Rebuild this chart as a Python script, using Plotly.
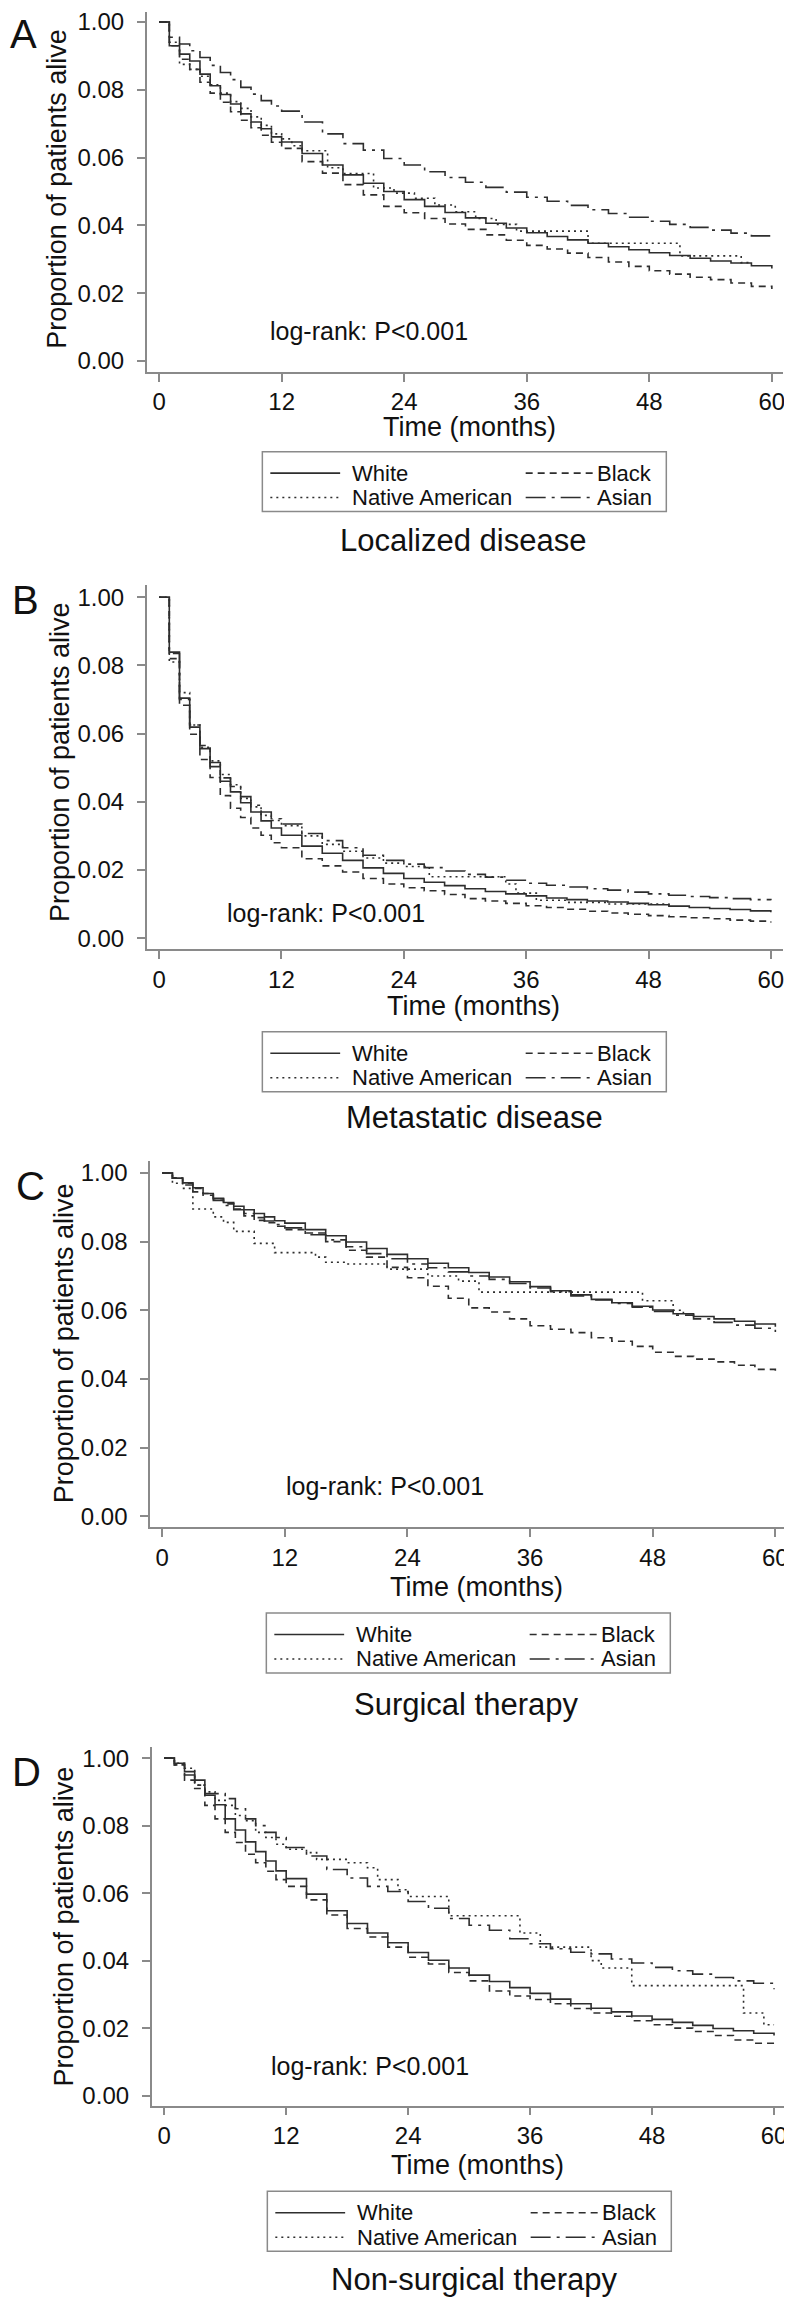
import plotly.graph_objects as go

# the page body adds an 8 px margin, so the figure is drawn 8 px smaller and
# every reference pixel position is shifted by that offset
OFF = 8
W, H = 792 - OFF, 2299 - OFF
FONT = "Liberation Sans, Arial, Helvetica, sans-serif"
INK = "#111111"
LINE = "#2e2e2e"
AXIS = "#8a8a8a"

# ---- data ----
months = [0, 1, 2, 3, 4, 5, 6, 7, 8, 9, 10, 11, 12,
          14, 16, 18, 20, 22, 24, 26, 28, 30, 32, 34, 36,
          38, 40, 42, 44, 46, 48, 50, 52, 54, 56, 58, 60]

# A - localized disease
a_white = [1.0, 0.93, 0.905, 0.885, 0.846, 0.812, 0.786, 0.758, 0.729, 0.705, 0.685, 0.661, 0.646,
           0.612, 0.578, 0.549, 0.524, 0.50, 0.476, 0.456, 0.438, 0.422, 0.406, 0.392, 0.378,
           0.367, 0.357, 0.347, 0.337, 0.328, 0.319, 0.311, 0.303, 0.295, 0.289, 0.281, 0.273]
a_black = [1.0, 0.93, 0.89, 0.86, 0.822, 0.79, 0.763, 0.735, 0.71, 0.688, 0.666, 0.645, 0.627,
           0.588, 0.554, 0.52, 0.49, 0.456, 0.437, 0.42, 0.404, 0.388, 0.372, 0.356, 0.341,
           0.33, 0.318, 0.305, 0.292, 0.279, 0.266, 0.256, 0.247, 0.24, 0.23, 0.22, 0.212]
a_asian = [1.0, 0.955, 0.935, 0.915, 0.895, 0.872, 0.851, 0.83, 0.807, 0.787, 0.768, 0.752, 0.737,
           0.705, 0.67, 0.641, 0.622, 0.597, 0.578, 0.558, 0.541, 0.527, 0.512, 0.498, 0.483,
           0.471, 0.459, 0.446, 0.435, 0.424, 0.412, 0.403, 0.394, 0.386, 0.377, 0.369, 0.362]
a_na_t = [0, 1, 2, 3, 4, 5, 6, 7, 8, 9, 10, 11, 12, 13, 14, 16.5, 18, 21, 23, 25, 27, 29, 31, 33, 35, 42, 51, 57, 58]
a_na = [1.0, 0.94, 0.875, 0.86, 0.84, 0.815, 0.79, 0.765, 0.745, 0.72, 0.695, 0.67, 0.655, 0.635, 0.62,
        0.57, 0.553, 0.51, 0.495, 0.48, 0.46, 0.44, 0.42, 0.403, 0.383, 0.347, 0.31, 0.29, 0.29]

# B - metastatic disease
b_white = [1.0, 0.839, 0.704, 0.619, 0.556, 0.503, 0.46, 0.429, 0.397, 0.37, 0.344, 0.323, 0.302,
           0.27, 0.249, 0.228, 0.206, 0.19, 0.175, 0.164, 0.154, 0.145, 0.137, 0.130, 0.124,
           0.118, 0.113, 0.109, 0.106, 0.102, 0.098, 0.094, 0.09, 0.087, 0.084, 0.08, 0.076]
b_black = [1.0, 0.82, 0.683, 0.598, 0.524, 0.471, 0.418, 0.381, 0.354, 0.323, 0.302, 0.28, 0.265,
           0.233, 0.212, 0.194, 0.175, 0.159, 0.148, 0.139, 0.128, 0.116, 0.109, 0.102, 0.095,
           0.09, 0.085, 0.079, 0.074, 0.07, 0.066, 0.063, 0.06, 0.057, 0.053, 0.05, 0.046]
b_asian = [1.0, 0.835, 0.70, 0.625, 0.565, 0.515, 0.47, 0.445, 0.415, 0.39, 0.37, 0.35, 0.335,
           0.307, 0.286, 0.265, 0.243, 0.228, 0.217, 0.207, 0.197, 0.187, 0.179, 0.17, 0.161,
           0.155, 0.15, 0.145, 0.141, 0.135, 0.13, 0.126, 0.122, 0.119, 0.116, 0.113, 0.111]
b_na_t = [0, 1, 2, 3, 4, 5, 6, 7, 8, 9, 10, 11, 12, 14, 16, 18, 20, 22, 24, 26.5, 34, 35, 37, 40, 44, 50]
b_na = [1.0, 0.81, 0.72, 0.625, 0.56, 0.52, 0.48, 0.45, 0.41, 0.385, 0.36, 0.345, 0.33,
        0.3, 0.275, 0.255, 0.235, 0.22, 0.21, 0.18, 0.159, 0.132, 0.111, 0.105, 0.1, 0.095]

# C - surgical therapy
c_white = [1.0, 0.985, 0.971, 0.957, 0.94, 0.926, 0.914, 0.903, 0.893, 0.882, 0.872, 0.861, 0.854,
           0.835, 0.817, 0.799, 0.78, 0.763, 0.75, 0.737, 0.724, 0.71, 0.697, 0.683, 0.669,
           0.657, 0.645, 0.632, 0.622, 0.612, 0.601, 0.59, 0.582, 0.575, 0.568, 0.56, 0.552]
c_black = [1.0, 0.985, 0.97, 0.955, 0.94, 0.925, 0.91, 0.895, 0.875, 0.862, 0.855, 0.845, 0.835,
           0.825, 0.80, 0.775, 0.755, 0.725, 0.695, 0.67, 0.635, 0.607, 0.595, 0.575, 0.555,
           0.545, 0.535, 0.52, 0.51, 0.495, 0.478, 0.466, 0.458, 0.45, 0.44, 0.428, 0.418]
c_asian = [1.0, 0.985, 0.965, 0.945, 0.935, 0.92, 0.905, 0.893, 0.882, 0.87, 0.86, 0.85, 0.84,
           0.82, 0.805, 0.785, 0.765, 0.75, 0.735, 0.724, 0.712, 0.70, 0.69, 0.678, 0.665,
           0.654, 0.642, 0.63, 0.62, 0.609, 0.597, 0.586, 0.575, 0.565, 0.557, 0.548, 0.537]
c_na_t = [0, 1, 2, 3, 5, 6, 7, 9, 11, 15, 16, 18, 22, 26, 29, 31, 47, 50, 51]
c_na = [1.0, 0.97, 0.955, 0.895, 0.872, 0.856, 0.83, 0.795, 0.768, 0.755, 0.74, 0.735, 0.72,
        0.70, 0.685, 0.653, 0.628, 0.60, 0.585]

# D - non-surgical therapy
d_white = [1.0, 0.985, 0.96, 0.935, 0.89, 0.862, 0.82, 0.787, 0.752, 0.723, 0.695, 0.666, 0.643,
           0.597, 0.548, 0.51, 0.482, 0.453, 0.424, 0.401, 0.378, 0.357, 0.338, 0.32, 0.303,
           0.286, 0.272, 0.259, 0.248, 0.236, 0.226, 0.217, 0.208, 0.199, 0.192, 0.185, 0.178]
d_black = [1.0, 0.98, 0.935, 0.91, 0.86, 0.82, 0.78, 0.75, 0.715, 0.69, 0.665, 0.64, 0.62,
           0.58, 0.535, 0.495, 0.47, 0.44, 0.41, 0.39, 0.365, 0.34, 0.31, 0.295, 0.285,
           0.272, 0.258, 0.245, 0.235, 0.222, 0.21, 0.2, 0.19, 0.178, 0.165, 0.155, 0.147]
d_asian = [1.0, 0.98, 0.95, 0.92, 0.895, 0.895, 0.88, 0.85, 0.82, 0.80, 0.78, 0.765, 0.735,
           0.71, 0.67, 0.645, 0.62, 0.605, 0.575, 0.555, 0.525, 0.505, 0.49, 0.465, 0.45,
           0.435, 0.425, 0.42, 0.405, 0.393, 0.38, 0.37, 0.36, 0.35, 0.34, 0.333, 0.315]
d_na_t = [0, 1, 2, 3, 4, 5, 6, 7, 8, 9, 10, 11, 12, 14, 15, 18, 20, 21, 23, 24, 28, 35, 37, 42, 43, 46, 57, 59, 60]
d_na = [1.0, 0.985, 0.97, 0.92, 0.9, 0.875, 0.86, 0.83, 0.815, 0.78, 0.765, 0.745, 0.73,
        0.72, 0.70, 0.69, 0.675, 0.64, 0.61, 0.59, 0.533, 0.482, 0.44, 0.40, 0.378, 0.326, 0.245, 0.21, 0.21]

groups = ["White", "Black", "Native American", "Asian"]
panel_letters = ["A", "B", "C", "D"]
panel_titles = ["Localized disease", "Metastatic disease", "Surgical therapy", "Non-surgical therapy"]
x_ticks = [0, 12, 24, 36, 48, 60]
y_tickvals = [0, 0.2, 0.4, 0.6, 0.8, 1.0]
y_ticktext = ["0.00", "0.02", "0.04", "0.06", "0.08", "1.00"]
pval_text = "log-rank: P<0.001"

series = [
    {"White": (months, a_white), "Black": (months, a_black), "Native American": (a_na_t, a_na), "Asian": (months, a_asian)},
    {"White": (months, b_white), "Black": (months, b_black), "Native American": (b_na_t, b_na), "Asian": (months, b_asian)},
    {"White": (months, c_white), "Black": (months, c_black), "Native American": (c_na_t, c_na), "Asian": (months, c_asian)},
    {"White": (months, d_white), "Black": (months, d_black), "Native American": (d_na_t, d_na), "Asian": (months, d_asian)},
]

dashes = {"White": "solid", "Black": "7px,5px", "Native American": "2px,4px", "Asian": "20px,6px,3px,6px"}

# pixel geometry of each panel in the reference picture
# xg: (pixel of month 0, pixel of month 60, axis left, axis right)
# yg: (pixel of 1.00, pixel of 0.00, axis top, axis bottom)
panels = [
    dict(xg=(159.5, 773.8, 147, 785), yg=(18, 358, 8, 369), letter=(0, 30),
         ytitle=(57.5, 185), xtitle=(471, 424), leg=(263, 449), sub=(464, 538), pv=(370, 328)),
    dict(xg=(159.5, 772.8, 147, 785), yg=(595, 937, 583, 948), letter=(10, 598),
         ytitle=(59.5, 760), xtitle=(475, 1005), leg=(263, 1031), sub=(476, 1117), pv=(327, 912)),
    dict(xg=(162.6, 777.3, 150.4, 789), yg=(1172.5, 1517, 1161, 1528), letter=(14, 1186),
         ytitle=(64.5, 1343), xtitle=(478, 1588), leg=(267, 1614), sub=(468, 1706), pv=(386, 1487)),
    dict(xg=(164.6, 776, 152, 787), yg=(1759.5, 2098, 1748, 2108), letter=(10, 1773),
         ytitle=(64.5, 1928), xtitle=(479, 2168), leg=(268, 2194), sub=(476, 2282), pv=(371, 2068)),
]


def fx(x):
    return max(0.0, (x - OFF) / W)


def fy(y):
    return min(1.0, 1 - (y - OFF) / H)


fig = go.Figure()
annotations = []
shapes = []
layout = {}


def note(text, xy, size, xanchor="center", **kw):
    annotations.append(dict(
        text=text, x=fx(xy[0]), y=fy(xy[1]), xref="paper", yref="paper",
        xanchor=xanchor, yanchor="middle", showarrow=False,
        font=dict(family=FONT, size=size, color=INK), **kw))


for i, p in enumerate(panels):
    n = "" if i == 0 else str(i + 1)
    for g in groups:
        t, v = series[i][g]
        fig.add_trace(go.Scatter(
            x=t, y=v, name=g, mode="lines", line_shape="hv",
            line=dict(color=LINE, width=1.6, dash=dashes[g]),
            xaxis="x" + n, yaxis="y" + n, showlegend=False,
        ))

    x0, x60, xl, xr = p["xg"]
    ux = (x60 - x0) / 60
    y1, y0, yt, yb = p["yg"]
    uy = y0 - y1

    layout["xaxis" + n] = dict(
        domain=[fx(xl), fx(xr)], anchor="y" + n,
        range=[-(x0 - xl) / ux, 60 + (xr - x60) / ux],
        tickvals=x_ticks, showgrid=False, zeroline=False, showline=True,
        linecolor=AXIS, linewidth=1.5, ticks="outside", ticklen=8, tickwidth=1.5, tickcolor=AXIS,
        tickfont=dict(family=FONT, size=24, color=INK), ticklabeloverflow="allow",
    )
    layout["yaxis" + n] = dict(
        domain=[fy(yb), fy(yt)], anchor="x" + n,
        range=[-(yb - y0) / uy, 1 + (y1 - yt) / uy],
        tickvals=y_tickvals, ticktext=y_ticktext, showgrid=False, zeroline=False, showline=True,
        linecolor=AXIS, linewidth=1.5, ticks="outside", ticklen=8, tickwidth=1.5, tickcolor=AXIS,
        tickfont=dict(family=FONT, size=24, color=INK), ticklabelstandoff=8,
        ticklabeloverflow="allow",
    )

    note(panel_letters[i], p["letter"], 40, xanchor="left")
    note("Proportion of patients alive", p["ytitle"], 27, textangle=-90)
    note("Time (months)", p["xtitle"], 27)
    note(panel_titles[i], p["sub"], 31)
    note(pval_text, p["pv"], 25)

    # legend box drawn by hand: two columns, two rows
    lx, ly = p["leg"]
    shapes.append(dict(type="rect", xref="paper", yref="paper",
                       x0=fx(lx), x1=fx(lx + 405), y0=fy(ly), y1=fy(ly + 60),
                       line=dict(color=AXIS, width=1.5)))
    slots = {"White": (0, 0), "Black": (1, 0), "Native American": (0, 1), "Asian": (1, 1)}
    for g in groups:
        col, row = slots[g]
        yy = ly + (21.5 if row == 0 else 46)
        sx = lx + (8 if col == 0 else 264)
        shapes.append(dict(type="line", xref="paper", yref="paper",
                           x0=fx(sx), x1=fx(sx + 70), y0=fy(yy), y1=fy(yy),
                           line=dict(color=LINE, width=1.6, dash=dashes[g])))
        note(g, (sx + (80 if col == 0 else 70), yy), 22, xanchor="left")

fig.update_layout(
    width=W, height=H, margin=dict(l=0, r=0, t=0, b=0),
    paper_bgcolor="white", plot_bgcolor="white", showlegend=False,
    annotations=annotations, shapes=shapes, **layout,
)

fig.write_html("out.html")
